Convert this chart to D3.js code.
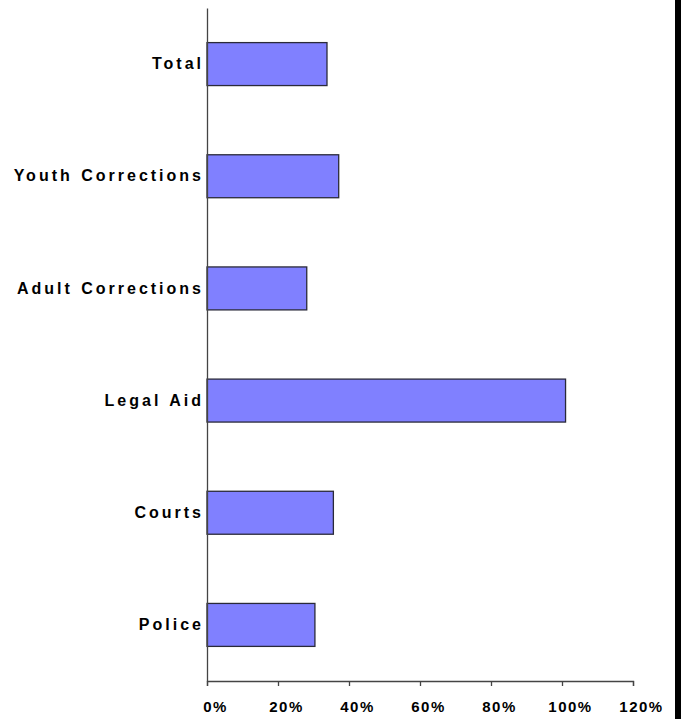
<!DOCTYPE html>
<html>
<head>
<meta charset="utf-8">
<script src="https://cdn.jsdelivr.net/npm/d3@7"></script>
<style>
  html, body { margin: 0; padding: 0; background: #fff; overflow: hidden; }
  svg { display: block; }
</style>
</head>
<body>
<svg id="chart" width="681" height="719"></svg>
<script>
const categories = ["Total", "Youth Corrections", "Adult Corrections", "Legal Aid", "Courts", "Police"];
const values = [0.338, 0.371, 0.281, 1.01, 0.356, 0.304];
const tickValues = [0, 0.2, 0.4, 0.6, 0.8, 1.0, 1.2];
const tickLabels = ["0%", "20%", "40%", "60%", "80%", "100%", "120%"];

const svg = d3.select("#chart");
const x = d3.scaleLinear().domain([0, 1.2]).range([207, 633]);
const y = d3.scaleBand().domain(categories).range([8, 681]).paddingInner(0.617).paddingOuter(0.3085);

// right black strip
svg.append("rect").attr("x", 675).attr("y", 0).attr("width", 6).attr("height", 719).attr("fill", "#000");

// bars
svg.append("g").selectAll("rect").data(categories).join("rect")
  .attr("x", x(0))
  .attr("y", d => y(d))
  .attr("width", (d, i) => x(values[i]) - x(0))
  .attr("height", y.bandwidth())
  .attr("fill", "#8080FF")
  .attr("stroke", "#2a2a3a")
  .attr("stroke-width", 1.3);

// x axis
const xAxis = d3.axisBottom(x).tickValues(tickValues).tickSize(5).tickFormat((d, i) => tickLabels[i]);
const gx = svg.append("g").attr("transform", "translate(0,681)").call(xAxis);
gx.select(".domain").attr("stroke", "#444").attr("stroke-width", 1.3);
gx.selectAll(".tick line").attr("stroke", "#444").attr("stroke-width", 1.3);
gx.selectAll(".tick text")
  .attr("y", 31).attr("dy", 0).attr("dx", 8)
  .attr("fill", "#000")
  .style("font-family", "Arial, 'Liberation Sans', sans-serif")
  .style("font-weight", "bold")
  .style("font-size", "15px")
  .style("letter-spacing", "1.5px");

// y axis
const yAxis = d3.axisLeft(y).tickSize(0).tickPadding(3);
const gy = svg.append("g").attr("transform", "translate(207,0)").call(yAxis);
gy.select(".domain").attr("stroke", "#444").attr("stroke-width", 1.3);
gy.selectAll(".tick text")
  .attr("fill", "#000")
  .style("font-family", "Arial, 'Liberation Sans', sans-serif")
  .style("font-weight", "bold")
  .style("font-size", "16px")
  .style("letter-spacing", "3px")
  .style("word-spacing", "1px");
</script>
</body>
</html>
